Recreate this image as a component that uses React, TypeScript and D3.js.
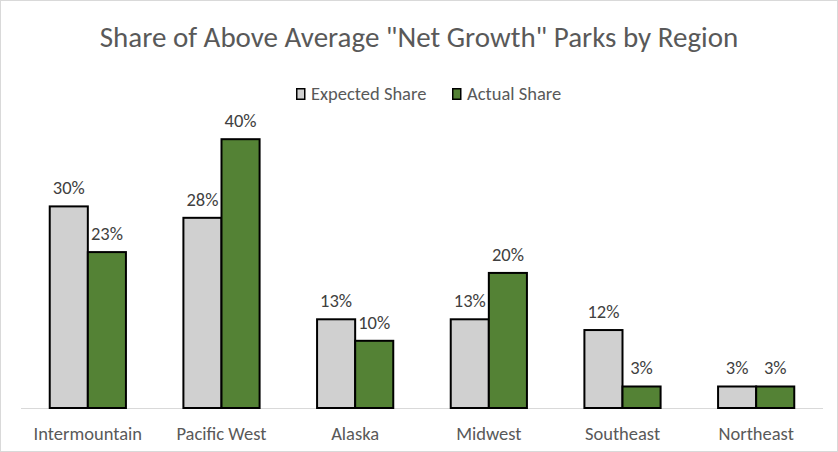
import React, { useEffect, useRef } from "react";
import * as d3 from "d3";

// Chart data
const regions = ["Intermountain", "Pacific West", "Alaska", "Midwest", "Southeast", "Northeast"];
const expectedShare = [0.3, 0.283, 0.132, 0.132, 0.116, 0.032];
const actualShare = [0.232, 0.4, 0.1, 0.201, 0.032, 0.032];
const expectedLabels = ["30%", "28%", "13%", "13%", "12%", "3%"];
const actualLabels = ["23%", "40%", "10%", "20%", "3%", "3%"];
const seriesNames = ["Expected Share", "Actual Share"];

const title = 'Share of Above Average "Net Growth" Parks by Region';

export default function App() {
  const ref = useRef<SVGSVGElement>(null);

  useEffect(() => {
    const width = 838,
      height = 452,
      margin = { top: 106, left: 21, right: 15, bottom: 44 };

    const font = "Calibri, Carlito, 'Open Sans', sans-serif";
    const grayFill = "#d0d0d0";
    const greenFill = "#548235";

    const svg = d3.select(ref.current);
    svg.selectAll("*").remove();

    // Outer border
    svg
      .append("rect")
      .attr("x", 0.5)
      .attr("y", 0.5)
      .attr("width", width - 1)
      .attr("height", height - 1)
      .attr("fill", "#fff")
      .attr("stroke", "#d9d9d9");

    const x = d3
      .scaleBand()
      .domain(regions)
      .range([margin.left, width - margin.right])
      .paddingInner(0.43)
      .paddingOuter(0.215);

    const x1 = d3.scaleBand().domain(["exp", "act"]).range([0, x.bandwidth()]);

    const y = d3
      .scaleLinear()
      .domain([0, 0.45])
      .range([height - margin.bottom, height - margin.bottom - 6.72 * 45]);

    // Title
    svg
      .append("text")
      .attr("x", 419)
      .attr("y", 47)
      .attr("text-anchor", "middle")
      .attr("font-family", font)
      .attr("font-size", 29)
      .attr("fill", "#595959")
      .text(title);

    // Legend
    const legendX = [296, 452];
    const legend = svg
      .selectAll(".legend")
      .data(seriesNames)
      .enter()
      .append("g")
      .attr("transform", (d, i) => `translate(${legendX[i]}, 88)`);

    legend
      .append("rect")
      .attr("x", 0.75)
      .attr("y", 0.75)
      .attr("width", 8)
      .attr("height", 10.5)
      .attr("fill", (d, i) => (i === 0 ? grayFill : greenFill))
      .attr("stroke", "#000")
      .attr("stroke-width", 1.5);

    legend
      .append("text")
      .attr("x", 15)
      .attr("y", 12)
      .attr("font-family", font)
      .attr("font-size", 18.5)
      .attr("fill", "#595959")
      .text((d) => d);

    // Axis baseline
    svg
      .append("line")
      .attr("x1", margin.left)
      .attr("x2", width - margin.right)
      .attr("y1", y(0) + 0.5)
      .attr("y2", y(0) + 0.5)
      .attr("stroke", "#d9d9d9")
      .attr("stroke-width", 1);

    // Bars
    const groups = svg
      .selectAll(".group")
      .data(regions)
      .enter()
      .append("g")
      .attr("transform", (d) => `translate(${x(d)}, 0)`);

    const drawSeries = (key, values, labels, fill) => {
      groups
        .append("rect")
        .attr("x", x1(key))
        .attr("y", (d, i) => y(values[i]))
        .attr("width", x1.bandwidth())
        .attr("height", (d, i) => y(0) - y(values[i]))
        .attr("fill", fill)
        .attr("stroke", "#000")
        .attr("stroke-width", 2);

      groups
        .append("text")
        .attr("x", x1(key) + x1.bandwidth() / 2)
        .attr("y", (d, i) => y(values[i]) - 12)
        .attr("text-anchor", "middle")
        .attr("font-family", font)
        .attr("font-size", 18.5)
        .attr("fill", "#404040")
        .text((d, i) => labels[i]);
    };

    drawSeries("exp", expectedShare, expectedLabels, grayFill);
    drawSeries("act", actualShare, actualLabels, greenFill);

    // Category labels
    svg
      .selectAll(".cat")
      .data(regions)
      .enter()
      .append("text")
      .attr("x", (d) => x(d) + x.bandwidth() / 2)
      .attr("y", 440)
      .attr("text-anchor", "middle")
      .attr("font-family", font)
      .attr("font-size", 18.5)
      .attr("fill", "#595959")
      .text((d) => d);
  }, []);

  return (
    <svg
      ref={ref}
      width={838}
      height={452}
      style={{ position: "absolute", left: 0, top: 0, display: "block" }}
    ></svg>
  );
}
